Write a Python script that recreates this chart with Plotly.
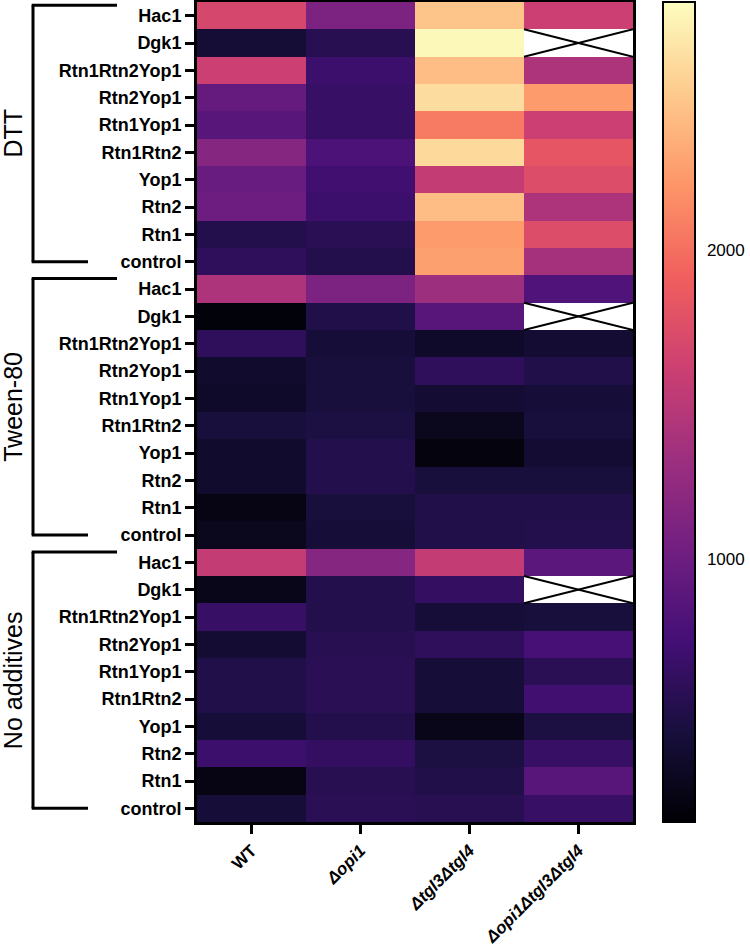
import plotly.graph_objects as go

# ---------------- data ----------------
strains = ["WT", "Δopi1", "Δtgl3Δtgl4", "Δopi1Δtgl3Δtgl4"]
genes = ["Hac1", "Dgk1", "Rtn1Rtn2Yop1", "Rtn2Yop1", "Rtn1Yop1",
         "Rtn1Rtn2", "Yop1", "Rtn2", "Rtn1", "control"]
conditions = ["DTT", "Tween-80", "No additives"]

# values per condition, one list per strain (rows follow `genes`)
dtt_wt = [1690, 410, 1610, 950, 870, 1160, 970, 1000, 520, 600]
dtt_opi1 = [1100, 550, 680, 650, 650, 790, 710, 680, 570, 520]
dtt_tgl = [2480, 2770, 2430, 2610, 2060, 2590, 1560, 2430, 2240, 2270]
dtt_opi1tgl = [1610, None, 1420, 2240, 1610, 1820, 1740, 1420, 1740, 1370]

tw_wt = [1420, 180, 600, 360, 340, 440, 360, 360, 230, 280]
tw_opi1 = [1100, 500, 420, 440, 440, 470, 520, 520, 440, 420]
tw_tgl = [1320, 870, 340, 600, 390, 280, 200, 440, 500, 500]
tw_opi1tgl = [810, None, 390, 500, 420, 440, 390, 440, 500, 520]

na_wt = [1560, 260, 650, 390, 500, 500, 420, 680, 230, 420]
na_opi1 = [1160, 520, 520, 550, 570, 570, 520, 630, 550, 570]
na_tgl = [1560, 630, 420, 600, 420, 420, 260, 470, 500, 550]
na_opi1tgl = [890, None, 440, 760, 570, 710, 470, 650, 870, 650]

colorbar_ticks = [1000, 2000]
zmin, zmax = 150, 2800

# ---------------- build matrix ----------------
blocks = [
    [dtt_wt, dtt_opi1, dtt_tgl, dtt_opi1tgl],
    [tw_wt, tw_opi1, tw_tgl, tw_opi1tgl],
    [na_wt, na_opi1, na_tgl, na_opi1tgl],
]
z = []
ylabels = []
for blk in blocks:
    for i, g in enumerate(genes):
        z.append([col[i] for col in blk])
        ylabels.append(g)
nrows = len(z)
yidx = list(range(nrows))
xidx = list(range(len(strains)))

FONT = "Liberation Sans, Arial, sans-serif"

# plot-area geometry (pixels) used for decoration placement
L, R, T, B = 197, 117, 2, 126
PW = 750 - L - R
CB_X0 = 663
CB_TH = 32


def px2paper(px):
    return (px - L) / PW


fig = go.Figure()
fig.add_trace(go.Heatmap(
    z=z, x=xidx, y=yidx,
    colorscale="Magma", zmin=zmin, zmax=zmax,
    hoverongaps=False,
    colorbar=dict(
        tickvals=colorbar_ticks, ticktext=[str(t) for t in colorbar_ticks],
        ticks="outside", ticklen=8, tickwidth=1, tickcolor="rgba(0,0,0,0)",
        outlinewidth=2, outlinecolor="black",
        thickness=CB_TH, thicknessmode="pixels",
        len=1.0, lenmode="fraction", y=0.5, yanchor="middle",
        x=px2paper(CB_X0), xanchor="left", xpad=0, ypad=0,
        tickfont=dict(family=FONT, size=17, color="black"),
    ),
))

shapes = []
# crosses on missing cells
for r in range(nrows):
    for c in range(len(strains)):
        if z[r][c] is None:
            shapes.append(dict(type="line", xref="x", yref="y",
                               x0=c - 0.5, x1=c + 0.5, y0=r - 0.5, y1=r + 0.5,
                               line=dict(color="black", width=2)))
            shapes.append(dict(type="line", xref="x", yref="y",
                               x0=c - 0.5, x1=c + 0.5, y0=r + 0.5, y1=r - 0.5,
                               line=dict(color="black", width=2)))

# colorbar tick marks on both inner edges
for t in colorbar_ticks:
    yp = (t - zmin) / (zmax - zmin)
    for xa, xb in [(CB_X0 + 1, CB_X0 + 7), (CB_X0 + CB_TH - 6, CB_X0 + CB_TH)]:
        shapes.append(dict(type="line", xref="paper", yref="paper",
                           x0=px2paper(xa), x1=px2paper(xb), y0=yp, y1=yp,
                           line=dict(color="black", width=1.5)))

# group brackets + labels
annotations = []
ng = len(genes)
xv = px2paper(33)
for gi, cond in enumerate(conditions):
    top = gi * ng - 0.38
    bot = gi * ng + ng - 1
    lw = 3
    shapes.append(dict(type="line", xref="paper", yref="y", x0=xv, x1=xv,
                       y0=top, y1=bot, line=dict(color="black", width=lw)))
    shapes.append(dict(type="line", xref="paper", yref="y", x0=xv - 0.003,
                       x1=px2paper(117), y0=top, y1=top,
                       line=dict(color="black", width=lw)))
    shapes.append(dict(type="line", xref="paper", yref="y", x0=xv - 0.003,
                       x1=px2paper(88), y0=bot, y1=bot,
                       line=dict(color="black", width=lw)))
    annotations.append(dict(text=cond, xref="paper", yref="y",
                            x=px2paper(13), y=(top + bot) / 2, textangle=-90,
                            showarrow=False, xanchor="center", yanchor="middle",
                            font=dict(family=FONT, size=25, color="black")))

xt = ["<b>WT</b>"] + ["<b><i>%s</i></b>" % s for s in strains[1:]]

fig.update_layout(
    width=750, height=948,
    margin=dict(l=L, r=R, t=T, b=B, autoexpand=False),
    paper_bgcolor="white", plot_bgcolor="white",
    shapes=shapes, annotations=annotations,
    xaxis=dict(tickvals=xidx, ticktext=xt, tickangle=-45,
               range=[-0.5, len(strains) - 0.5], automargin=False,
               showline=True, mirror=True, linewidth=3, linecolor="black",
               ticks="outside", ticklen=9, tickwidth=3, tickcolor="black",
               showgrid=False, zeroline=False,
               tickfont=dict(family=FONT, size=17, color="black")),
    yaxis=dict(tickvals=yidx, ticktext=ylabels, automargin=False,
               range=[nrows - 0.5, -0.5],
               showline=True, mirror=True, linewidth=3, linecolor="black",
               ticks="outside", ticklen=9, tickwidth=3, tickcolor="black",
               showgrid=False, zeroline=False,
               tickfont=dict(family=FONT, size=18, color="black", weight="bold")),
)

fig.write_html("out.html")
